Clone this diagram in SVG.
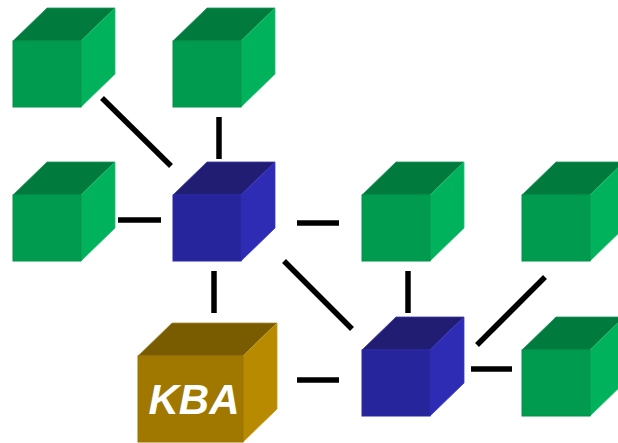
<svg xmlns="http://www.w3.org/2000/svg" xmlns:xlink="http://www.w3.org/1999/xlink" width="618" height="443" viewBox="0 0 618 443">
  <style>
    .link { stroke: #000; stroke-width: 5.5; stroke-linecap: butt; fill: none; }
    .g-front { fill: #009b4e; stroke: #00924a; stroke-width: 1; }
    .g-top { fill: #007a3d; stroke: #1a9a5a; stroke-width: 0.8; }
    .g-right { fill: #00b25b; stroke: #22c070; stroke-width: 0.8; }
    .b-front { fill: #27259b; stroke: #2b29a8; stroke-width: 1; }
    .b-top { fill: #201d72; stroke: #3a37a8; stroke-width: 0.8; }
    .b-right { fill: #2e2bb5; stroke: #3b38c2; stroke-width: 0.8; }
    .k-front { fill: #a07800; stroke: #9a7300; stroke-width: 1; }
    .k-top { fill: #7a5c00; stroke: #a88a3a; stroke-width: 0.8; }
    .k-right { fill: #b88a00; stroke: #c49a20; stroke-width: 0.8; }
    .label { fill: #fff; font-family: "Liberation Sans", Arial, sans-serif; font-weight: bold; font-style: italic; font-size: 42px; }
  </style>
  <defs>
    <g id="greenCube">
      <polygon class="g-top" points="0,0 34,-33 102,-33 68,0"/>
      <polygon class="g-right" points="68,0 102,-33 102,33 68,66"/>
      <rect class="g-front" x="0" y="0" width="68" height="66"/>
    </g>
    <g id="blueCube">
      <polygon class="b-top" points="0,0 34,-33 102,-33 68,0"/>
      <polygon class="b-right" points="68,0 102,-33 102,33 68,66"/>
      <rect class="b-front" x="0" y="0" width="68" height="66"/>
    </g>
  </defs>

  <!-- connectors -->
  <g id="connectors">
    <line class="link" x1="102" y1="98" x2="171" y2="166"/>
    <line class="link" x1="219" y1="117" x2="219" y2="159"/>
    <line class="link" x1="118" y1="220" x2="161" y2="220"/>
    <line class="link" x1="297" y1="223" x2="339" y2="223"/>
    <line class="link" x1="284" y1="261" x2="352" y2="329"/>
    <line class="link" x1="214" y1="271" x2="214" y2="313"/>
    <line class="link" x1="408" y1="271" x2="408" y2="313"/>
    <line class="link" x1="545" y1="277" x2="477" y2="345"/>
    <line class="link" x1="297" y1="380" x2="339" y2="380"/>
    <line class="link" x1="471" y1="369" x2="512" y2="369"/>
  </g>

  <!-- nodes -->
  <g id="node-top-left" transform="translate(13,41)"><use xlink:href="#greenCube" href="#greenCube"/></g>
  <g id="node-top-mid" transform="translate(173,41)"><use xlink:href="#greenCube" href="#greenCube"/></g>
  <g id="node-mid-left" transform="translate(13,195)"><use xlink:href="#greenCube" href="#greenCube"/></g>
  <g id="hub-a" transform="translate(173,195)"><use xlink:href="#blueCube" href="#blueCube"/></g>
  <g id="node-mid-right" transform="translate(362,195)"><use xlink:href="#greenCube" href="#greenCube"/></g>
  <g id="node-far-right" transform="translate(522,195)"><use xlink:href="#greenCube" href="#greenCube"/></g>
  <g id="hub-b" transform="translate(362,350)"><use xlink:href="#blueCube" href="#blueCube"/></g>
  <g id="node-bottom-right" transform="translate(522,350)"><use xlink:href="#greenCube" href="#greenCube"/></g>

  <g id="kba" transform="translate(138,356)">
    <polygon class="k-top" points="0,0 34,-33 139,-33 105,0"/>
    <polygon class="k-right" points="105,0 139,-33 139,53 105,86"/>
    <rect class="k-front" x="0" y="0" width="105" height="86"/>
    <text class="label" x="56" y="58" text-anchor="middle">KBA</text>
  </g>
</svg>
